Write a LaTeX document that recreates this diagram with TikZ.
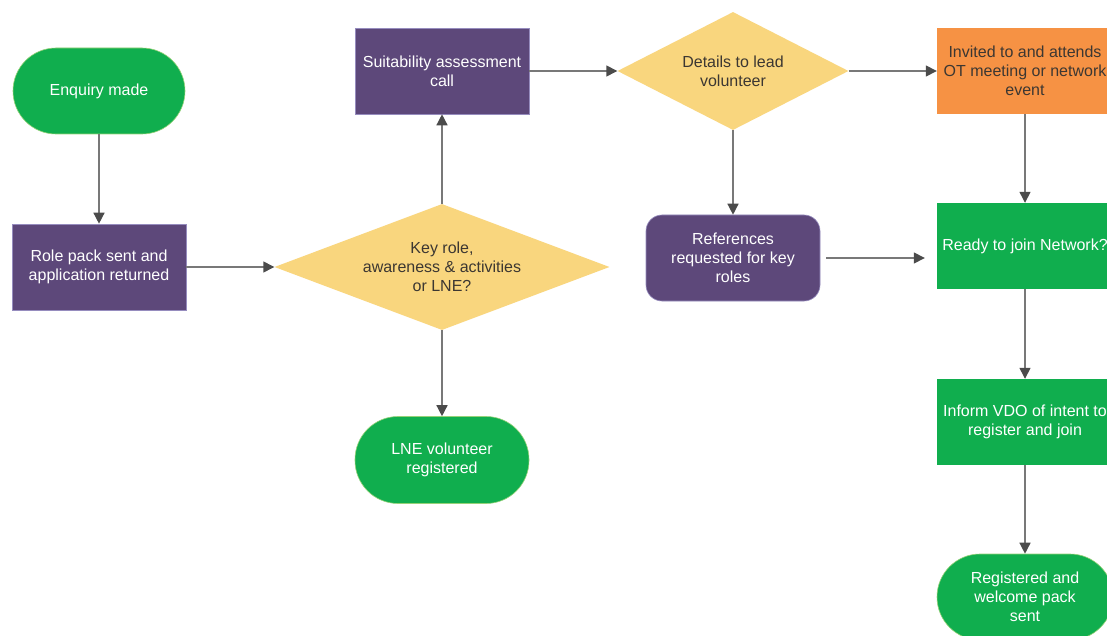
\documentclass[tikz,border=0pt]{standalone}
\usepackage{fontspec}
\setmainfont{Liberation Sans}
\usetikzlibrary{shapes.geometric,arrows.meta}
\definecolor{cgreen}{RGB}{16,174,78}
\definecolor{cgreenb}{RGB}{150,210,120}
\definecolor{cpurple}{RGB}{93,72,122}
\definecolor{cpurpleb}{RGB}{150,140,190}
\definecolor{cyellow}{RGB}{249,214,126}
\definecolor{corange}{RGB}{246,146,68}
\definecolor{ctextd}{RGB}{60,55,50}
\definecolor{cline}{RGB}{120,120,120}
\definecolor{chead}{RGB}{75,75,75}
\tikzset{
  base/.style={font=\fontsize{16}{19}\selectfont, align=center, inner sep=0pt},
  term/.style={base, fill=cgreen, draw=cgreenb, line width=0.6pt, text=white, rounded corners=43pt, minimum width=172pt, minimum height=86pt},
  pbox/.style={base, fill=cpurple, draw=cpurpleb, line width=0.6pt, text=white, minimum width=174pt, minimum height=86pt},
  gbox/.style={base, fill=cgreen, text=white, minimum width=176pt, minimum height=86pt},
  obox/.style={base, fill=corange, text=ctextd, minimum width=176pt, minimum height=86pt},
  dec/.style={base, diamond, fill=cyellow, text=ctextd},
  arr/.style={draw=cline, line width=1.4pt, -{Triangle[length=11pt,width=11pt,fill=chead,color=chead]}},
}
\begin{document}
\begin{tikzpicture}[x=1pt,y=-1pt]
\useasboundingbox[fill=white] (0,0) rectangle (1107,636);
\node[term] (enq) at (99,91) {Enquiry made};
\node[pbox] (role) at (99,267) {Role pack sent and\\application returned};
\node[dec, minimum width=335pt, minimum height=126pt, shape aspect=2.66] (key) at (442,267) {Key role,\\awareness \& activities\\or LNE?};
\node[pbox] (suit) at (442,71) {Suitability assessment\\call};
\node[term, minimum width=174pt, minimum height=87pt] (lne) at (442,460) {LNE volunteer\\registered};
\node[dec, minimum width=231pt, minimum height=118pt, shape aspect=1.96] (det) at (733,71) {Details to lead\\volunteer};
\node[pbox, rounded corners=16pt] (refs) at (733,258) {References\\requested for key\\roles};
\node[obox] (inv) at (1025,71) {Invited to and attends\\OT meeting or network\\event};
\node[gbox] (ready) at (1025,246) {Ready to join Network?};
\node[gbox] (inf) at (1025,422) {Inform VDO of intent to\\register and join};
\node[term, minimum width=176pt] (reg) at (1025,597) {Registered and\\welcome pack\\sent};
\draw[arr] (enq) -- (role);
\draw[arr] (role) -- (key);
\draw[arr] (key) -- (suit);
\draw[arr] (key) -- (lne);
\draw[arr] (suit) -- (det);
\draw[arr] (det) -- (inv);
\draw[arr] (det) -- (refs);
\draw[arr, shorten <=6pt, shorten >=12pt] (refs.east) -- (refs.east -| ready.west);
\draw[arr] (inv) -- (ready);
\draw[arr] (ready) -- (inf);
\draw[arr] (inf) -- (reg);
\end{tikzpicture}
\end{document}
